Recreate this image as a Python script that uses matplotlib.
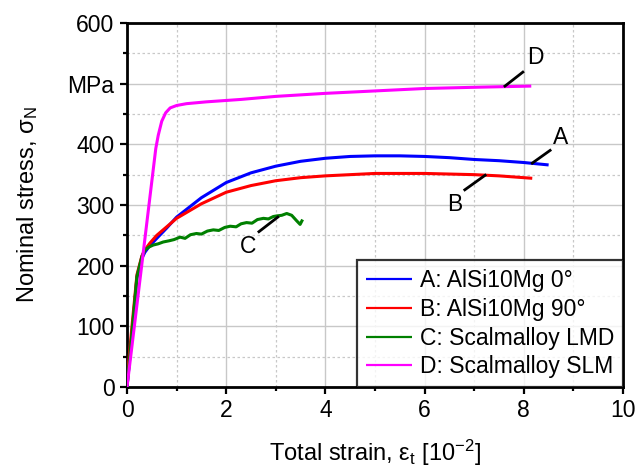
import matplotlib
matplotlib.use("Agg")
import matplotlib.pyplot as plt
from matplotlib.ticker import MultipleLocator, FixedLocator

plt.rcParams["font.family"] = ["Liberation Sans", "DejaVu Sans"]
plt.rcParams["mathtext.fontset"] = "custom"
plt.rcParams["mathtext.rm"] = "Liberation Sans"
plt.rcParams["mathtext.it"] = "Liberation Sans:italic"

# A: AlSi10Mg 0°
strain_a = [0, 0.1, 0.2, 0.3, 0.36, 0.45, 0.6, 0.8, 1.0, 1.5, 2.0, 2.5, 3.0, 3.5,
            4.0, 4.5, 5.0, 5.5, 6.0, 6.5, 7.0, 7.5, 8.0, 8.5]
stress_a = [0, 85, 180, 212, 222, 232, 245, 262, 280, 312, 337, 353, 364, 372,
            377, 380, 381, 381, 380, 378, 375, 373, 370, 366]

# B: AlSi10Mg 90°
strain_b = [0, 0.1, 0.2, 0.3, 0.36, 0.46, 0.6, 0.8, 1.0, 1.5, 2.0, 2.5, 3.0, 3.5,
            4.0, 4.5, 5.0, 5.5, 6.0, 6.5, 7.0, 7.5, 8.17]
stress_b = [12, 100, 185, 216, 226, 237, 250, 264, 278, 302, 321, 332, 340, 345,
            348, 350, 352, 352, 352, 351, 350, 348, 344]

# C: Scalmalloy LMD
strain_c = [0, 0.1, 0.2, 0.3, 0.36, 0.45, 0.53, 0.63, 0.73, 0.85, 0.95, 1.07,
            1.17, 1.28, 1.4, 1.5, 1.62, 1.74, 1.85, 1.97, 2.08, 2.2, 2.3, 2.41,
            2.52, 2.63, 2.75, 2.85, 2.95, 3.02, 3.12, 3.22, 3.32, 3.42, 3.49, 3.54]
stress_c = [0, 90, 182, 215, 226, 231, 234, 236, 239, 241, 243, 247,
            245, 251, 253, 252, 257, 259, 258, 263, 265, 264, 269, 271,
            270, 276, 278, 277, 281, 282, 283, 286, 283, 274, 268, 276]

# D: Scalmalloy SLM
strain_d = [0, 0.3, 0.45, 0.58, 0.63, 0.7, 0.78, 0.87, 1.0, 1.2, 1.6, 2.3,
            3.0, 4.0, 5.0, 6.0, 7.0, 8.15]
stress_d = [0, 203, 305, 393, 415, 438, 452, 460, 464, 467, 470, 474,
            479, 484, 488, 492, 494, 496]

series = [
    (strain_a, stress_a, "#0000ff", "A: AlSi10Mg 0°"),
    (strain_b, stress_b, "#ff0000", "B: AlSi10Mg 90°"),
    (strain_c, stress_c, "#008000", "C: Scalmalloy LMD"),
    (strain_d, stress_d, "#ff00ff", "D: Scalmalloy SLM"),
]

# curve labels: (text, leader start, leader end, text position)
curve_tags = [
    ("D", (7.62, 496), (7.98, 519), (8.23, 543)),
    ("A", (8.17, 369), (8.53, 390), (8.75, 412)),
    ("B", (7.22, 349), (6.81, 325), (6.61, 300)),
    ("C", (3.04, 280), (2.66, 256), (2.45, 232)),
]

y_ticks = [0, 100, 200, 300, 400, 500, 600]
y_ticklabels = ["0", "100", "200", "300", "400", "MPa", "600"]

FS = 16.5

fig = plt.figure(figsize=(6.36, 4.68), dpi=100, facecolor="white")
ax = fig.add_axes([0.1997, 0.1731, 0.7799, 0.7778])

for x, y, c, lab in series:
    ax.plot(x, y, color=c, lw=2.2, label=lab, solid_capstyle="butt", zorder=3)

for tag, p0, p1, pt in curve_tags:
    ax.plot([p0[0], p1[0]], [p0[1], p1[1]], color="black", lw=2.0, zorder=4)
    ax.text(pt[0], pt[1], tag, fontsize=FS, ha="center", va="center", zorder=4)

ax.set_xlim(0, 10)
ax.set_ylim(0, 600)
ax.xaxis.set_major_locator(MultipleLocator(2))
ax.xaxis.set_minor_locator(MultipleLocator(1))
ax.yaxis.set_major_locator(FixedLocator(y_ticks))
ax.yaxis.set_minor_locator(MultipleLocator(50))
ax.set_yticklabels(y_ticklabels)

ax.grid(which="major", color="#c8c8c8", lw=1.0, ls="-", zorder=0)
ax.grid(which="minor", color="#c8c8c8", lw=0.9, ls=(0, (2, 2)), zorder=0)
ax.set_axisbelow(True)

for s in ax.spines.values():
    s.set_linewidth(2.0)
ax.tick_params(which="major", direction="out", length=5, width=1.6, labelsize=FS, pad=4,
               top=False, right=False)
ax.tick_params(which="minor", direction="out", length=3, width=1.6, top=False, right=False)

ax.set_xlabel(r"Total strain, ε$_\mathregular{t}$ [10$^\mathregular{-2}$]", fontsize=17, labelpad=11)
ax.set_ylabel(r"Nominal stress, σ$_\mathregular{N}$", fontsize=17, labelpad=20)

leg = ax.legend(loc="lower right", fontsize=FS, frameon=True, fancybox=False,
                borderaxespad=0, handlelength=2.0, handletextpad=0.35,
                labelspacing=0.25, borderpad=0.38)
leg.get_frame().set_edgecolor("black")
leg.get_frame().set_linewidth(1.6)
for h in leg.get_lines():
    h.set_linewidth(1.6)
leg.set_zorder(5)

fig.savefig("out.png", dpi=100, facecolor="white")
